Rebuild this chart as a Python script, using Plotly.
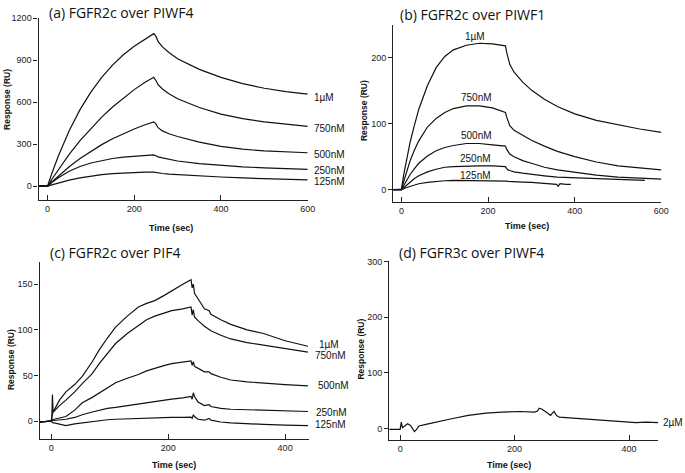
import plotly.graph_objects as go

W, H = 685, 473

# ---------------- data ----------------
# Panel (a) FGFR2c over PIWF4
A_T = [-20, -10, -2, 0, 10, 25, 50, 75, 100, 125, 150, 175, 200, 225, 245,
       250, 255, 265, 280, 300, 350, 400, 450, 500, 550, 600]
A_1uM = [0, 2, 0, 0, 91, 216, 396, 547, 672, 778, 865, 939, 1000, 1052, 1090,
         1070, 1035, 995, 955, 910, 835, 778, 733, 700, 676, 658]
A_750 = [0, 2, 0, 0, 50, 120, 228, 326, 414, 494, 566, 631, 690, 742, 778,
         755, 725, 695, 660, 625, 562, 515, 483, 460, 442, 427]
A_500 = [0, 2, 0, 0, 30, 73, 139, 198, 250, 297, 339, 376, 409, 439, 460,
         445, 418, 395, 375, 355, 315, 285, 265, 252, 244, 239]
A_250 = [0, 2, 0, 0, 27, 61, 107, 141, 166, 184, 198, 208, 215, 221, 224,
         218, 210, 202, 192, 180, 162, 148, 138, 131, 125, 121]
A_125 = [0, 2, 0, 0, 10, 24, 44, 60, 73, 83, 90, 95, 98, 100, 100,
         97, 94, 91, 87, 83, 74, 66, 59, 53, 49, 45]
A_LABELS = ["1\u00b5M", "750nM", "500nM", "250nM", "125nM"]
A_LABEL_Y = [635, 415, 229, 111, 34]

# Panel (b) FGFR2c over PIWF1
B_T = [-19, -10, 0, 5, 10, 20, 30, 40, 60, 80, 100, 120, 150, 180, 210, 240,
       243, 246, 250, 260, 280, 300, 330, 360, 400, 450, 500, 550, 600]
B_1uM = [0, 0, 0, 22, 40, 72, 98, 122, 158, 185, 202, 212, 219, 222, 221, 218,
         208, 198, 190, 178, 163, 151, 137, 126, 115, 105, 98, 92, 87]
B_750 = [0, 0, 0, 12, 24, 44, 60, 74, 95, 108, 117, 123, 127, 127, 124, 117,
         110, 103, 97, 90, 83, 75, 66, 58, 50, 42, 36, 33, 30]
B_500 = [0, 0, 0, 6, 12, 23, 32, 40, 51, 59, 64, 67, 70, 70, 68, 66,
         61, 57, 54, 50, 44, 40, 34, 30, 26, 22, 19, 17, 16]
B_250_T = [-19, -10, 0, 5, 10, 20, 30, 40, 60, 80, 100, 120, 150, 180, 210, 240,
           243, 246, 250, 260, 280, 300, 330, 360, 400, 450, 500, 550, 562]
B_250 = [0, 0, 0, 3, 6, 12, 17, 21, 27, 31, 34, 35, 36, 36, 36, 35,
         32, 30, 29, 27, 25, 23, 21, 19, 18, 16, 15, 14, 14]
B_125_T = [-19, -10, 0, 5, 10, 20, 30, 40, 60, 80, 100, 120, 150, 180, 210, 240,
           243, 246, 250, 260, 280, 300, 330, 350, 358, 362, 366, 380, 391]
B_125 = [0, 0, 0, 1, 3, 5, 7, 9, 11, 12.5, 13.5, 14, 14, 14, 14, 13.5,
         13, 12.5, 12.5, 12, 11.5, 11, 10, 9, 8, 5, 9, 8, 8]
B_LABELS = ["1\u00b5M", "750nM", "500nM", "250nM", "125nM"]
B_LABEL_X = [170, 174, 174, 172, 172]
B_LABEL_Y = [232, 140, 82, 47, 21]

# Panel (c) FGFR2c over PIF4
C_T = [-20, -5, 0, 1, 2, 3, 5, 14, 25, 40, 53, 70, 82, 96, 110, 130, 149, 163,
       177, 194, 206, 225, 239, 241, 243, 245, 251, 262, 270, 273, 290, 307,
       335, 363, 400, 439]
C_1uM = [-1, 0, 0, 5, 29, 10, 12, 23, 32, 40, 49, 65, 78, 91, 103, 115, 125, 129,
         132, 138, 143, 150, 155, 146, 150, 140, 134, 123, 121, 117, 111, 106,
         100, 96, 88, 82]
C_750 = [-1, 0, 0, 5, 10, 10, 11, 17, 23, 32, 41, 52, 63, 74, 85, 96, 105, 111,
         115, 119, 121, 123, 125, 116, 122, 114, 110, 104, 101, 99, 94, 90,
         86, 83, 79, 75.5]
C_500 = [-1, 0, 0, 1, 2, 2, 2, 3, 5, 12, 20, 26, 31, 37, 42, 47, 51, 55,
         58, 61, 63, 65, 66, 61, 65, 60, 58, 54, 54, 52, 48, 45,
         43, 41.5, 40, 38.5]
C_250 = [-1, 0, 0, 0, 0, 0, 0, 1, 2, 4, 7, 10, 12, 14, 15, 17, 19, 20,
         21.5, 23, 24, 25.5, 27, 24, 31, 27, 21, 17, 18, 16, 14, 13,
         12.5, 12, 11, 10.5]
C_125 = [-1, 0, 0, -1, -2, -2, -2, -3, -5, -3, -2, 0, 1, 1.5, 2, 2.5, 3, 3,
         3.5, 3.5, 4, 4, 4.3, 3, 7, 5, 2, 1, 3, 1, -1, -2,
         -2.5, -3.6, -4.5, -5]
C_LABELS = ["1\u00b5M", "750nM", "500nM", "250nM", "125nM"]
C_LABEL_Y = [84, 72, 39, 9.5, -4]
C_LABEL_SHIFT = [8, 4, 7, 5, 4]

# Panel (d) FGFR3c over PIWF4
D_T = [-19, -5, 0, 2, 4, 8, 13, 18, 22, 25, 28, 33, 45, 62, 90, 119, 150, 177,
       210, 235, 240, 243, 248, 255, 263, 266, 269, 273, 278, 290, 320, 350,
       380, 407, 412, 430, 451]
D_2uM = [-1, -1, -1, 12, 2, 5, 9, 6, -1, -5, -2, 5, 8, 12, 18, 24, 28, 30,
         31, 30, 32, 37, 35, 30, 24, 28, 31, 24, 21, 20, 18, 16,
         14, 12, 11, 12, 11]
D_LABEL = "2\u00b5M"
D_LABEL_Y = 12

TITLES = ["(a) FGFR2c over PIWF4", "(b) FGFR2c over PIWF1",
          "(c) FGFR2c over PIF4", "(d) FGFR3c over PIWF4"]
A_YTICKS = [0, 300, 600, 900, 1200]
B_YTICKS = [0, 100, 200]
C_YTICKS = [0, 50, 100, 150]
D_YTICKS = [0, 100, 200, 300]
AB_XTICKS = [0, 200, 400, 600]
CD_XTICKS = [0, 200, 400]

# ---------------- figure ----------------
def px_x(x):
    return x / W

def px_y(y):
    return 1 - y / H

LINE = dict(color="#111111", width=1.2)
fig = go.Figure()

def add(t, v, ax):
    fig.add_trace(go.Scatter(x=t, y=v, mode="lines", line=LINE,
                             xaxis="x" + ax, yaxis="y" + ax,
                             showlegend=False, hoverinfo="skip"))

for s in [A_1uM, A_750, A_500, A_250, A_125]:
    add(A_T, s, "")
for s in [B_1uM, B_750, B_500]:
    add(B_T, s, "2")
add(B_250_T, B_250, "2")
add(B_125_T, B_125, "2")
for s in [C_1uM, C_750, C_500, C_250, C_125]:
    add(C_T, s, "3")
add(D_T, D_2uM, "4")

tickfont = dict(family="Liberation Sans, Arial, sans-serif", size=9, color="#222")
common_x = dict(showline=True, linecolor="#222", linewidth=1.3, ticks="inside",
                ticklen=5, tickwidth=1.1, tickcolor="#222", showgrid=False,
                zeroline=False, tickfont=tickfont, tickmode="array")
common_y = dict(showline=True, linecolor="#222", linewidth=1.3, ticks="outside",
                ticklen=4, tickwidth=1.1, tickcolor="#222", showgrid=False,
                zeroline=False, tickfont=tickfont, tickmode="array")

panels = {
    "": dict(xd=(39, 311), yd=(197.3, 13.3), xr=[-20.5, 600.3], yr=[-100, 1200.5],
             xt=AB_XTICKS, yt=A_YTICKS),
    "2": dict(xd=(397.3, 668.3), yd=(199.3, 20), xr=[-19, 600.3], yr=[-19, 250],
              xt=AB_XTICKS, yt=B_YTICKS),
    "3": dict(xd=(40, 311.7), yd=(439, 260), xr=[-20, 440], yr=[-20, 174],
              xt=CD_XTICKS, yt=C_YTICKS),
    "4": dict(xd=(393.3, 665), yd=(440, 259), xr=[-19, 451], yr=[-20.7, 300.2],
              xt=CD_XTICKS, yt=D_YTICKS),
}
lay = {}
for k, p in panels.items():
    lay["xaxis" + k] = dict(common_x, domain=[px_x(p["xd"][0]), px_x(p["xd"][1])],
                            range=p["xr"], tickvals=p["xt"],
                            anchor="y" + k)
    lay["yaxis" + k] = dict(common_y, domain=[px_y(p["yd"][0]), px_y(p["yd"][1])],
                            range=p["yr"], tickvals=p["yt"],
                            anchor="x" + k)
fig.update_layout(**lay)

ann = []
titlefont = dict(family="Open Sans, Noto Sans, sans-serif", size=14, color="#111")
for title, (x, y) in zip(TITLES, [(47, 8), (401.7, 10), (48.3, 250), (401, 250)]):
    ann.append(dict(text=title, x=px_x(x), y=px_y(y), xref="paper", yref="paper",
                    xanchor="left", yanchor="middle", showarrow=False, font=titlefont))

boldfont = dict(family="Liberation Sans, Arial, sans-serif", size=9, color="#111")
for (x, y) in [(173, 225), (532, 223), (176, 465), (514, 465)]:
    ann.append(dict(text="<b>Time (sec)</b>", x=px_x(x), y=px_y(y), xref="paper",
                    yref="paper", xanchor="center", yanchor="middle",
                    showarrow=False, font=boldfont))
ylabfont = dict(family="Liberation Sans, Arial, sans-serif", size=8.5, color="#111")
for (x, y) in [(7, 95), (368, 107), (11, 358), (365, 348)]:
    ann.append(dict(text="<b>Response (RU)</b>", x=px_x(x), y=px_y(y), xref="paper",
                    yref="paper", xanchor="center", yanchor="middle", textangle=-90,
                    showarrow=False, font=ylabfont))

labfont = dict(family="Liberation Sans, Arial, sans-serif", size=10, color="#111")
for lab, yv in zip(A_LABELS, A_LABEL_Y):
    ann.append(dict(text=lab, x=600, y=yv, xref="x", yref="y", xanchor="left",
                    yanchor="middle", xshift=4, showarrow=False, font=labfont))
for lab, xv, yv in zip(B_LABELS, B_LABEL_X, B_LABEL_Y):
    ann.append(dict(text=lab, x=xv, y=yv, xref="x2", yref="y2", xanchor="center",
                    yanchor="middle", showarrow=False, font=labfont))
for lab, yv, sh in zip(C_LABELS, C_LABEL_Y, C_LABEL_SHIFT):
    ann.append(dict(text=lab, x=440, y=yv, xref="x3", yref="y3", xanchor="left",
                    yanchor="middle", xshift=sh, showarrow=False, font=labfont))
ann.append(dict(text=D_LABEL, x=451, y=D_LABEL_Y, xref="x4", yref="y4",
                xanchor="left", yanchor="middle", xshift=3, showarrow=False,
                font=labfont))

fig.update_layout(annotations=ann, width=W, height=H,
                  margin=dict(l=0, r=0, t=0, b=0),
                  paper_bgcolor="white", plot_bgcolor="white")

fig.write_html("out.html", config={"displayModeBar": False},
               post_script="document.body.style.margin='0';"
                           "document.body.style.overflow='hidden';")
